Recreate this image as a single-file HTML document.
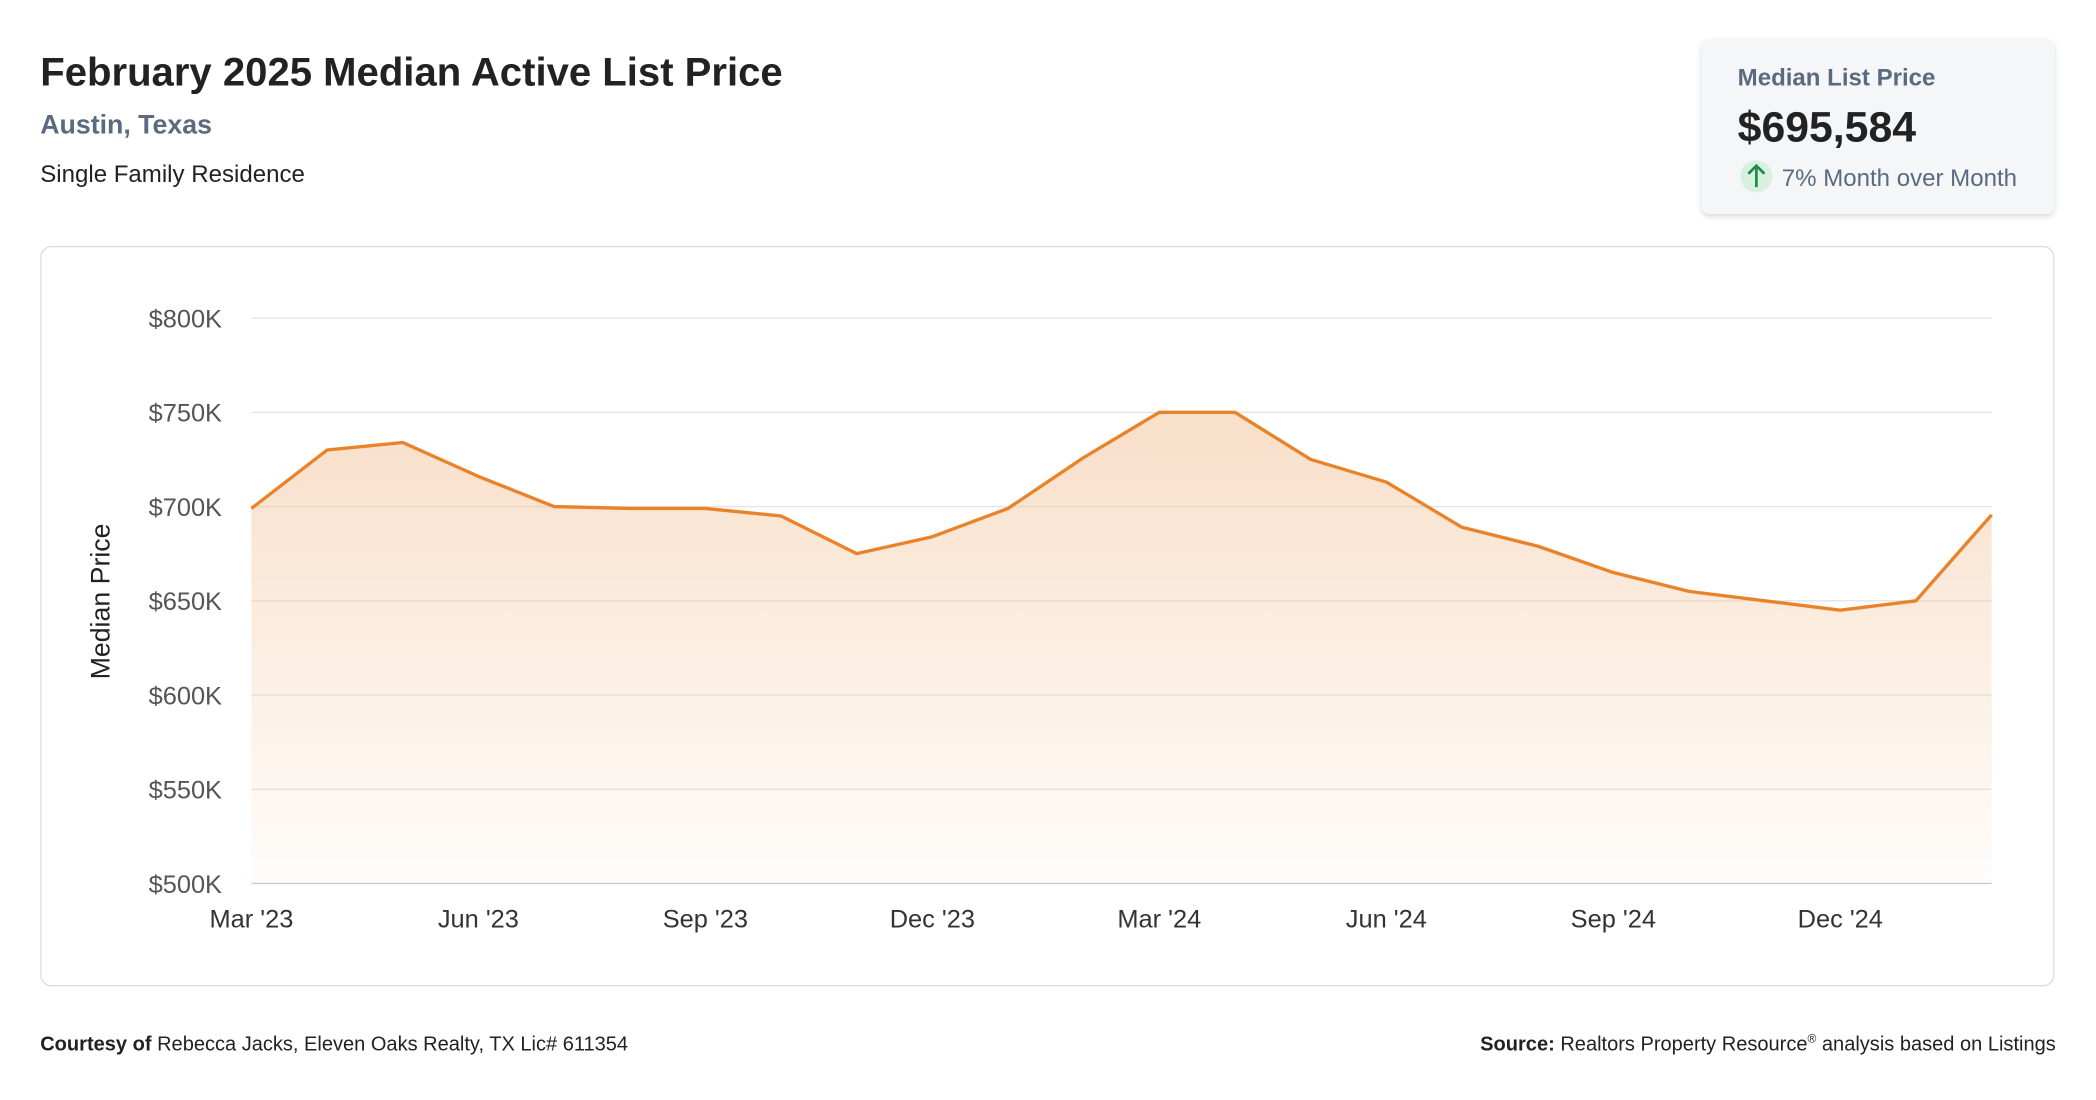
<!DOCTYPE html>
<html><head><meta charset="utf-8"><style>
html,body{margin:0;padding:0;background:#fff;width:2096px;height:1100px;overflow:hidden}
svg{display:block;font-family:"Liberation Sans",Arial,sans-serif}
</style></head><body>
<svg width="2096" height="1100" viewBox="0 0 1568 823">
<defs>
<linearGradient id="fillg" x1="0" y1="0" x2="0" y2="1">
<stop offset="0" stop-color="#f3c59c" stop-opacity="0.55"/>
<stop offset="1" stop-color="#f3c59c" stop-opacity="0.05"/>
</linearGradient>
<filter id="sh" x="-10%" y="-10%" width="120%" height="130%"><feDropShadow dx="0" dy="2" stdDeviation="2" flood-opacity="0.15"/></filter>
</defs>
<text x="30" y="64" font-size="30" font-weight="bold" fill="#222">February 2025 Median Active List Price</text>
<text x="30" y="100" font-size="20" font-weight="bold" fill="#5a6a80">Austin, Texas</text>
<text x="30" y="136" font-size="18" fill="#222">Single Family Residence</text>

<g>
<rect x="1273" y="29" width="264" height="131" rx="6" fill="#f5f6f8" filter="url(#sh)"/>
<text x="1300" y="64" font-size="18" font-weight="bold" fill="#5a6a80">Median List Price</text>
<text x="1300" y="106" font-size="32" font-weight="bold" fill="#222">$695,584</text>
<circle cx="1314" cy="132" r="12" fill="#d8f0e0"/>
<path d="M1314 140 V124 M1308 130 L1314 124 L1320 130" stroke="#1e8a4a" stroke-width="2" fill="none"/>
<text x="1333" y="139" font-size="18" fill="#5a6a80">7% Month over Month</text>
</g>

<rect x="30.5" y="184.5" width="1506" height="553" rx="8" fill="#fff" stroke="#d9dde2"/>
<g id="grid"></g>
<g id="plot"></g>
<text transform="translate(82,450) rotate(-90)" text-anchor="middle" font-size="20" fill="#222">Median Price</text>

<text x="30" y="786" font-size="15" fill="#222"><tspan font-weight="bold">Courtesy of</tspan> Rebecca Jacks, Eleven Oaks Realty, TX Lic# 611354</text>
<text x="1538" y="786" font-size="15" fill="#222" text-anchor="end"><tspan font-weight="bold">Source:</tspan> Realtors Property Resource<tspan font-size="9" dy="-6">®</tspan><tspan dy="6"> analysis based on Listings</tspan></text>
</svg>
<script>
const months=["Mar '23","Apr '23","May '23","Jun '23","Jul '23","Aug '23","Sep '23","Oct '23","Nov '23","Dec '23","Jan '24","Feb '24","Mar '24","Apr '24","May '24","Jun '24","Jul '24","Aug '24","Sep '24","Oct '24","Nov '24","Dec '24","Jan '25","Feb '25"];
const prices=[699,730,734,716,700,699,699,695,675,684,699,726,750,750,725,713,689,679,665,655,650,645,650,695.584];
const yTicks=[500,550,600,650,700,750,800];
const xTickIdx=[0,3,6,9,12,15,18,21];
const NS="http://www.w3.org/2000/svg";
const x0=188,x1=1490,yTop=238,yBot=661,yMin=500,yMax=800;
const X=i=>x0+(x1-x0)*i/(months.length-1);
const Y=v=>yBot-(v-yMin)/(yMax-yMin)*(yBot-yTop);
const grid=document.getElementById('grid'),plot=document.getElementById('plot');
function mk(t,a,p){const e=document.createElementNS(NS,t);for(const k in a)e.setAttribute(k,a[k]);p.appendChild(e);return e;}
yTicks.forEach(v=>{
 const l=mk('line',{x1:x0,x2:x1,y1:Y(v),y2:Y(v),stroke:v===500?'#ccc':'#e4e4e4','stroke-width':1},grid);
 
 
 const t=mk('text',{x:166,y:Y(v)+7,'text-anchor':'end','font-size':19,fill:'#555'},grid);
 t.textContent='$'+v+'K';
 
 
});
xTickIdx.forEach(i=>{
 const t=mk('text',{x:X(i),y:694,'text-anchor':'middle','font-size':19,fill:'#333'},grid);
 t.textContent=months[i];
 
 
});
let d=prices.map((v,i)=>(i?'L':'M')+X(i)+' '+Y(v)).join(' ');
const area=mk('path',{d:d+` L${X(prices.length-1)} ${yBot} L${X(0)} ${yBot} Z`,fill:'url(#fillg)'},plot);


const line=mk('path',{d:d,fill:'none',stroke:'#e8832a','stroke-width':2.5,'stroke-linejoin':'round'},plot);


</script>
</body></html>
